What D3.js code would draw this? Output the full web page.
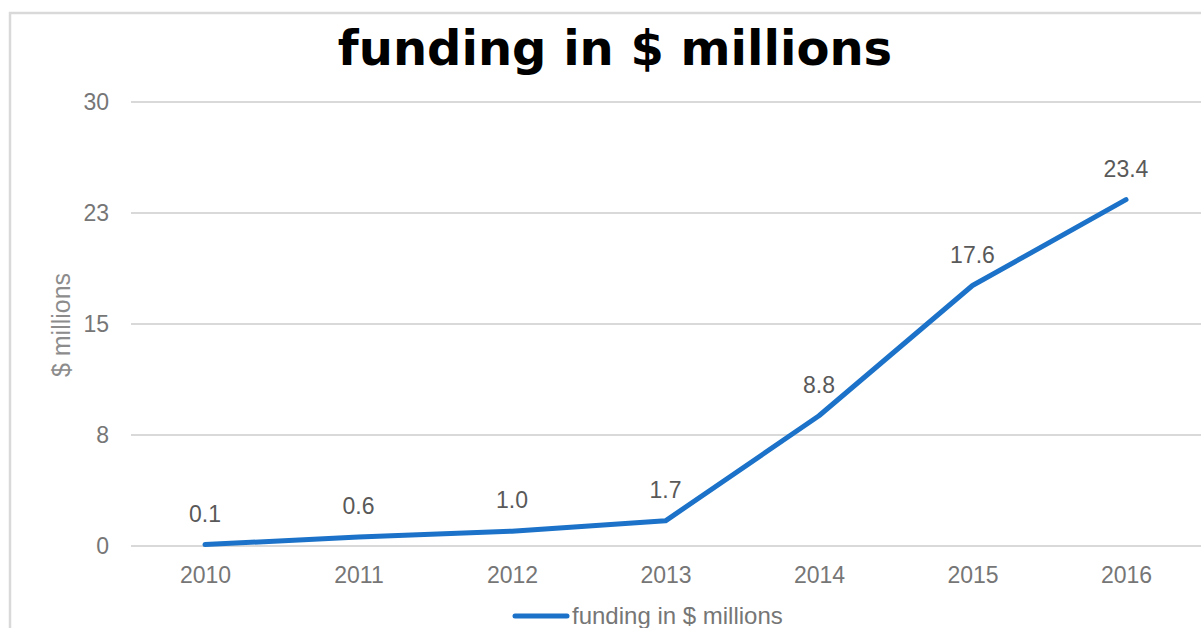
<!DOCTYPE html>
<html>
<head>
<meta charset="utf-8">
<script src="https://cdn.jsdelivr.net/npm/d3@7"></script>
<style>
  body { margin: 0; background: #fff; }
  text { font-family: "Liberation Sans", Arial, sans-serif; }
</style>
</head>
<body>
<div id="chart"></div>
<script>
// data
var years = ["2010", "2011", "2012", "2013", "2014", "2015", "2016"];
var funding = [0.1, 0.6, 1.0, 1.7, 8.8, 17.6, 23.4];
var yTicks = [0, 7.5, 15, 22.5, 30];

var width = 1201,
    height = 628;

var svg = d3.select('#chart')
            .append('svg')
            .attr('width', width)
            .attr('height', height);

// outer border of the chart box
svg.append('rect')
   .attr('x', 10).attr('y', 13)
   .attr('width', 1200).attr('height', 640)
   .attr('fill', 'none')
   .attr('stroke', '#d9d9d9')
   .attr('stroke-width', 2.5);

var x = d3.scalePoint().domain(years).range([205, 1126]);
var y = d3.scaleLinear().domain([0, 30]).range([546, 102]);

// gridlines
svg.append('g').selectAll('line')
   .data(yTicks)
   .enter()
   .append('line')
   .attr('x1', 131).attr('x2', 1201)
   .attr('y1', function(d) { return y(d); })
   .attr('y2', function(d) { return y(d); })
   .attr('stroke', '#d9d9d9')
   .attr('stroke-width', 2);

// y axis labels
var yAxis = d3.axisLeft(y).tickValues(yTicks).tickSize(0).tickPadding(0)
              .tickFormat(function(d) { return d3.format('.0f')(Math.round(d + 0.01)); });
var gy = svg.append('g').attr('transform', 'translate(109,0)').call(yAxis);
gy.select('.domain').remove();
gy.selectAll('text')
  .attr('font-size', 23)
  .attr('fill', '#767676')
  .style('font-family', '"Liberation Sans", Arial, sans-serif');

// x axis labels
var xAxis = d3.axisBottom(x).tickSize(0).tickPadding(0);
var gx = svg.append('g').attr('transform', 'translate(0,567)').call(xAxis);
gx.select('.domain').remove();
gx.selectAll('text')
  .attr('font-size', 23)
  .attr('fill', '#767676')
  .style('font-family', '"Liberation Sans", Arial, sans-serif');

// the line
var line = d3.line()
             .x(function(d, i) { return x(years[i]); })
             .y(function(d) { return y(d); });

svg.append('path')
   .datum(funding)
   .attr('d', line)
   .attr('fill', 'none')
   .attr('stroke', '#1b72c8')
   .attr('stroke-width', 5)
   .attr('stroke-linecap', 'round')
   .attr('stroke-linejoin', 'round');

// data labels
svg.append('g').selectAll('text')
   .data(funding)
   .enter()
   .append('text')
   .attr('x', function(d, i) { return x(years[i]); })
   .attr('y', function(d) { return y(d) - 23; })
   .attr('text-anchor', 'middle')
   .attr('font-size', 23)
   .attr('fill', '#595959')
   .text(function(d) { return d3.format('.1f')(d); });

// title
svg.append('text')
   .attr('x', 615).attr('y', 65)
   .attr('text-anchor', 'middle')
   .attr('font-size', 48)
   .attr('font-weight', 'bold')
   .style('font-family', '"DejaVu Sans", Verdana, sans-serif')
   .attr('fill', '#000')
   .text('funding in $ millions');

// y axis title
svg.append('text')
   .attr('transform', 'translate(70,325) rotate(-90)')
   .attr('text-anchor', 'middle')
   .attr('font-size', 25)
   .attr('fill', '#8c8c8c')
   .text('$ millions');

// legend
svg.append('line')
   .attr('x1', 515).attr('x2', 567)
   .attr('y1', 616).attr('y2', 616)
   .attr('stroke', '#1b72c8')
   .attr('stroke-width', 5)
   .attr('stroke-linecap', 'round');

svg.append('text')
   .attr('x', 572).attr('y', 624)
   .attr('font-size', 24)
   .attr('fill', '#767676')
   .text('funding in $ millions');
</script>
</body>
</html>
